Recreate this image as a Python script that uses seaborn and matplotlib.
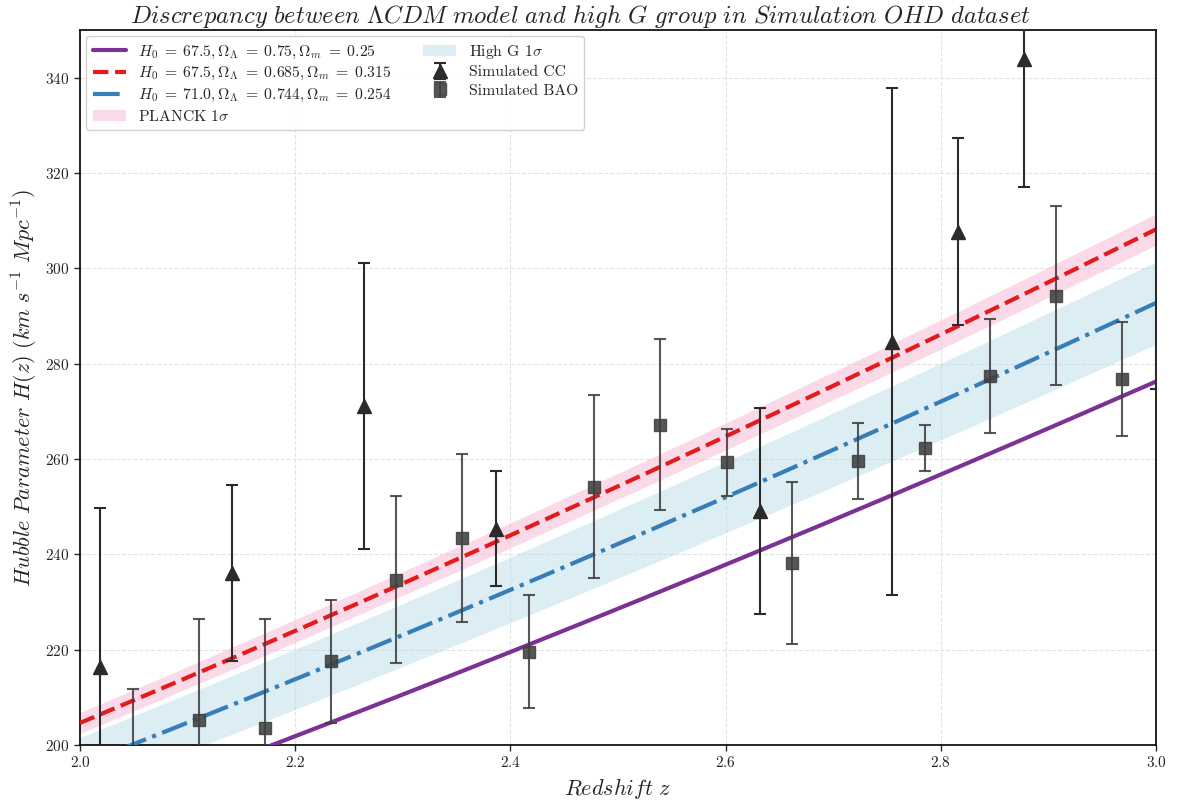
import numpy as np
import pandas as pd
import matplotlib
matplotlib.use("Agg")
import matplotlib.pyplot as plt
import seaborn as sns

# ---- model parameters (from legend) ----
model_H0 = [67.5, 67.5, 71.0]
model_OL = [0.75, 0.685, 0.744]
model_Om = [0.25, 0.315, 0.254]
model_colors = ["#7b3294", "#e41a1c", "#377eb8"]
model_styles = ["-", "--", "-."]
planck_H0_sigma = 0.72
highG_H0_sigma = 2.1

# ---- simulated cosmic chronometer (CC) data ----
cc_z = [2.019, 2.141, 2.264, 2.387, 2.632, 2.755, 2.816, 2.877, 3.000]
cc_H = [216.4, 236.1, 271.1, 245.4, 249.1, 284.6, 307.7, 344.0, 362.0]
cc_err = [33.4, 18.4, 30.0, 12.0, 21.7, 53.2, 19.6, 27.0, 87.3]

# ---- simulated BAO data ----
bao_z = [2.049, 2.111, 2.172, 2.233, 2.294, 2.355, 2.417, 2.478,
         2.539, 2.601, 2.662, 2.723, 2.785, 2.846, 2.907, 2.968]
bao_H = [197.5, 205.2, 203.6, 217.6, 234.7, 243.4, 219.6, 254.2,
         267.2, 259.3, 238.1, 259.6, 262.3, 277.4, 294.3, 276.8]
bao_err = [14.2, 21.2, 22.8, 12.9, 17.6, 17.6, 11.9, 19.2,
           18.0, 7.0, 17.0, 8.0, 4.9, 12.0, 18.8, 11.9]

sns.set_style("ticks")
plt.rcParams["font.family"] = "serif"
plt.rcParams["font.serif"] = ["cmr10", "DejaVu Serif"]
plt.rcParams["mathtext.fontset"] = "cm"
plt.rcParams["axes.formatter.use_mathtext"] = True
plt.rcParams["axes.unicode_minus"] = False

fig, ax = plt.subplots(figsize=(11.78, 8.05), dpi=100)
fig.subplots_adjust(left=80/1178, right=1156/1178, top=1-30/805, bottom=1-745/805)

zgrid = np.linspace(2.0, 3.0, 300)


def hubble(z, H0, OL, Om):
    return H0 * np.sqrt(Om * (1 + z) ** 3 + OL)


# 1-sigma bands
H_planck = hubble(zgrid, model_H0[1], model_OL[1], model_Om[1])
H_highG = hubble(zgrid, model_H0[2], model_OL[2], model_Om[2])
fac_p = planck_H0_sigma / model_H0[1]
fac_g = highG_H0_sigma / model_H0[2]

labels = [r"$H_0\;=\;67.5,\Omega_\Lambda\;=\;0.75,\Omega_m\;=\;0.25$",
          r"$H_0\;=\;67.5,\Omega_\Lambda\;=\;0.685,\Omega_m\;=\;0.315$",
          r"$H_0\;=\;71.0,\Omega_\Lambda\;=\;0.744,\Omega_m\;=\;0.254$"]

for H0, OL, Om, c, ls, lab in zip(model_H0, model_OL, model_Om, model_colors, model_styles, labels):
    df = pd.DataFrame({"z": zgrid, "H": hubble(zgrid, H0, OL, Om)})
    sns.lineplot(data=df, x="z", y="H", ax=ax, color=c, linestyle=ls, lw=3,
                 label=lab, zorder=3)

ax.fill_between(zgrid, H_planck * (1 - fac_p), H_planck * (1 + fac_p),
                color="#f7b6d2", alpha=0.5, lw=0, label=r"PLANCK $1\sigma$", zorder=2)
ax.fill_between(zgrid, H_highG * (1 - fac_g), H_highG * (1 + fac_g),
                color="#add8e6", alpha=0.42, lw=0, label=r"High G $1\sigma$", zorder=1)

ax.errorbar(cc_z, cc_H, yerr=cc_err, fmt="^", color="#2b2b2b", ms=10,
            ecolor="#2b2b2b", elinewidth=1.5, capsize=4, capthick=1.5,
            label="Simulated CC", zorder=4)
ax.errorbar(bao_z, bao_H, yerr=bao_err, fmt="s", color="#404040", ms=9,
            ecolor="#404040", elinewidth=1.5, capsize=4, capthick=1.5, alpha=0.88,
            label="Simulated BAO", zorder=4)

ax.set_xlim(2.0, 3.0)
ax.set_ylim(200, 350)
ax.set_xticks([2.0, 2.2, 2.4, 2.6, 2.8, 3.0])
ax.set_yticks(np.arange(200, 341, 20))
ax.tick_params(labelsize=11, direction="out", length=4, width=1)
ax.grid(True, linestyle="--", color="#dddddd", alpha=0.8, lw=0.8)
ax.set_axisbelow(True)
for s in ax.spines.values():
    s.set_linewidth(1.2)
    s.set_color("black")

ax.set_xlabel(r"$Redshift\ z$", fontsize=16)
ax.set_ylabel(r"$Hubble\ Parameter\ H(z)\ (km\ s^{-1}\ Mpc^{-1})$", fontsize=16)
fig.text(580 / 1178, 1 - 3 / 805,
         r"$Discrepancy\ between\ \Lambda CDM\ model\ and\ high\ G\ group\ in\ Simulation\ OHD\ dataset$",
         fontsize=17.7, ha="center", va="top")

handles, labs = ax.get_legend_handles_labels()
order = [labels[0], labels[1], labels[2], r"PLANCK $1\sigma$", r"High G $1\sigma$",
         "Simulated CC", "Simulated BAO"]
hmap = dict(zip(labs, handles))
ax.legend([hmap[o] for o in order], order, loc="upper left", ncol=2, fontsize=11.3,
          frameon=True, fancybox=True, framealpha=0.9, edgecolor="#cccccc",
          borderaxespad=0.4, handlelength=2.1, labelspacing=0.3, columnspacing=2.0,
          borderpad=0.4)

fig.savefig("out.png", dpi=100)
